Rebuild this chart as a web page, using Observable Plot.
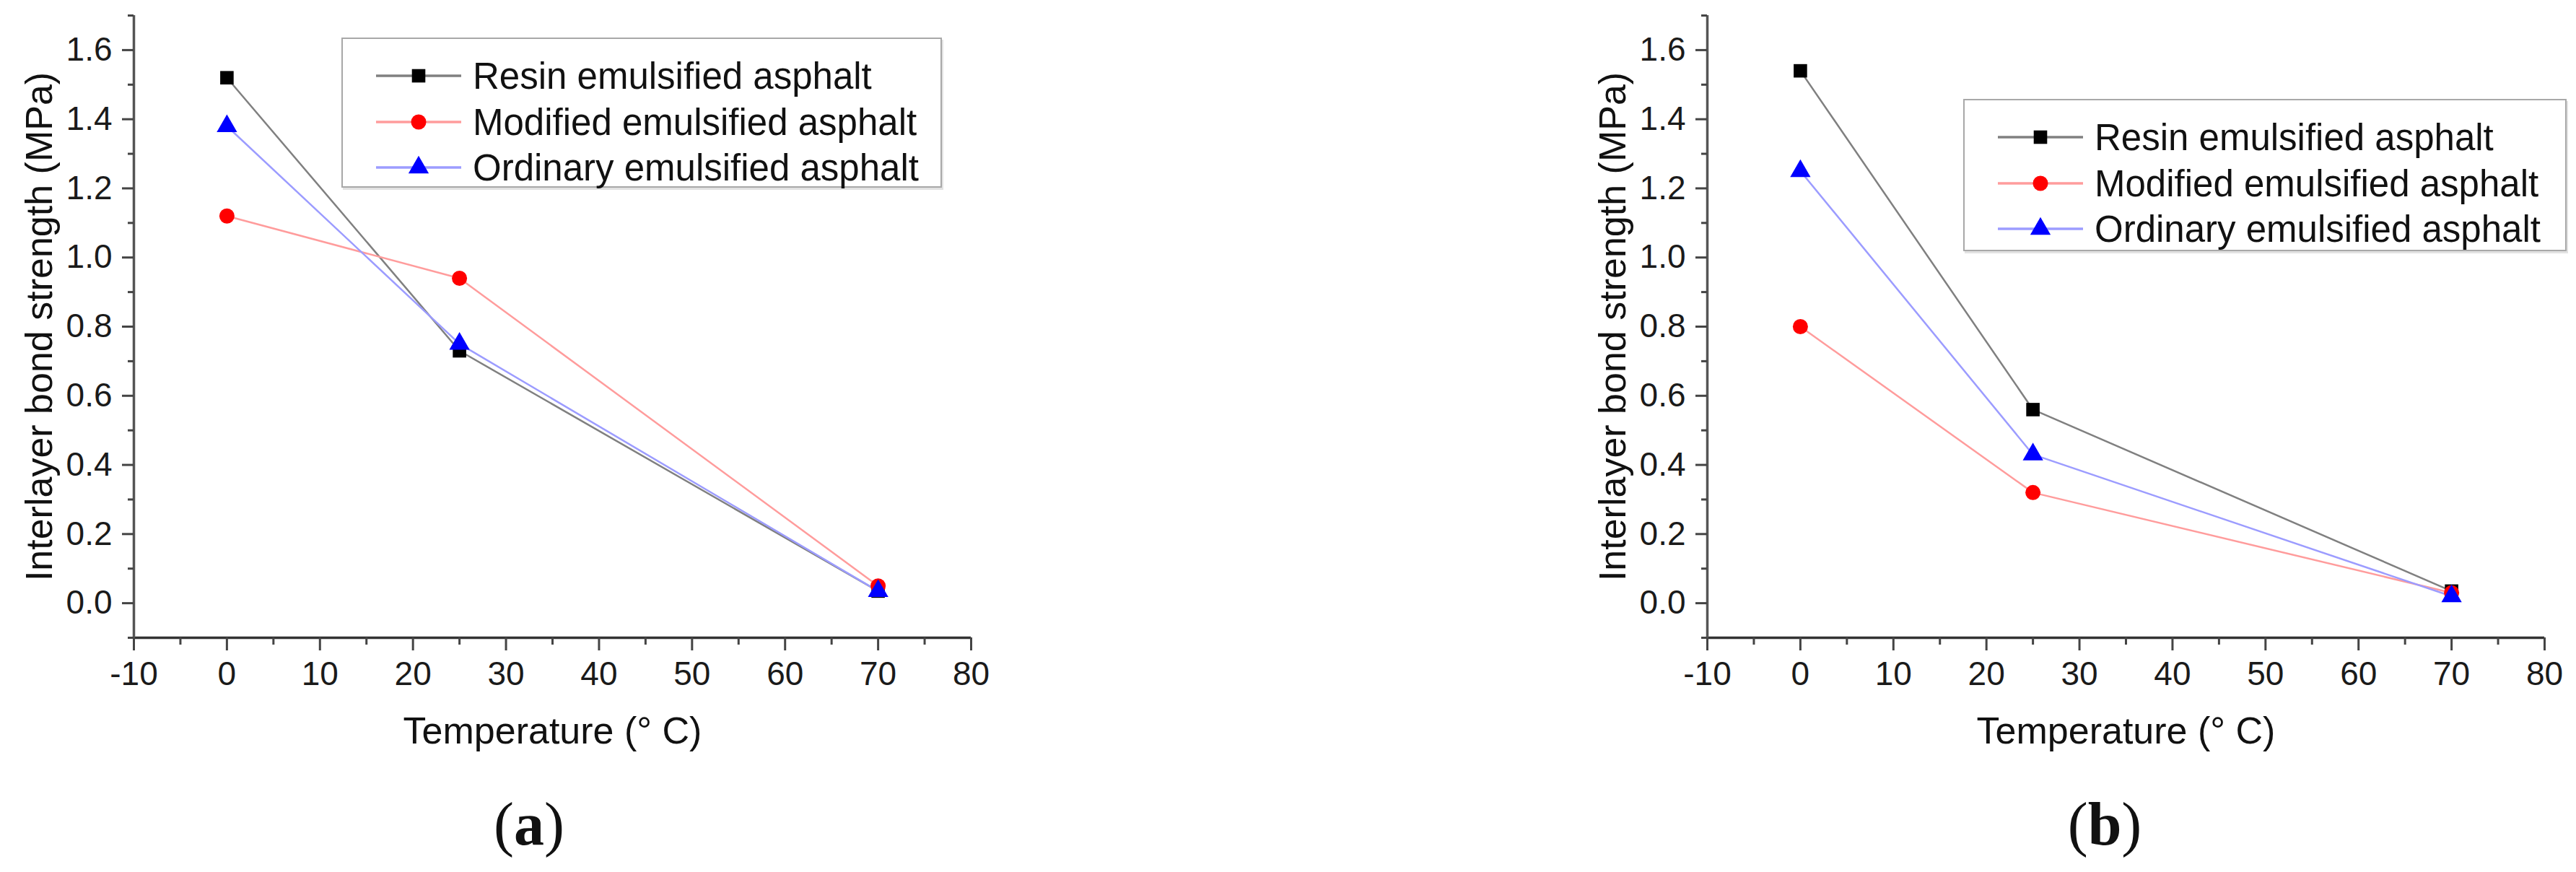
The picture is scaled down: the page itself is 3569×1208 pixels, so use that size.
<!DOCTYPE html>
<html>
<head>
<meta charset="utf-8">
<script src="https://cdn.jsdelivr.net/npm/d3@7"></script>
<script src="https://cdn.jsdelivr.net/npm/@observablehq/plot@0.6"></script>
<style>
  html, body { margin: 0; padding: 0; background: #fff; }
  #page { position: relative; width: 3569px; height: 1208px; background: #fff; overflow: hidden;
          font-family: "Liberation Sans", Arial, sans-serif; }
  .panel { position: absolute; top: 0; }
  .legend { position: absolute; box-sizing: border-box; border: 2.5px solid #a8a8a8; background: #fff;
            box-shadow: 2px 3px 0 #e2e2e2; }
  .legend .row { position: absolute; left: 0; height: 64px; display: flex; align-items: center; }
  .legend .row span { font-size: 51px; color: #111; white-space: nowrap; margin-left: 14px; }
  .caption { position: absolute; width: 400px; text-align: center; font-family: "Liberation Serif", "Times New Roman", serif;
             font-size: 84px; line-height: 84px; color: #111; }
  .caption b { font-weight: bold; }
</style>
</head>
<body>
<div id="page"></div>
<script>
// ---- data ----
const temperatures = [0, 25, 70];
const seriesNames = ["Resin emulsified asphalt", "Modified emulsified asphalt", "Ordinary emulsified asphalt"];
// panel (a)
const resinA = [1.52, 0.73, 0.035];
const modifiedA = [1.12, 0.94, 0.05];
const ordinaryA = [1.38, 0.75, 0.035];
// panel (b)
const resinB = [1.54, 0.56, 0.035];
const modifiedB = [0.80, 0.32, 0.03];
const ordinaryB = [1.25, 0.43, 0.02];
// ticks
const xMajorTicks = [-10, 0, 10, 20, 30, 40, 50, 60, 70, 80];
const xMinorTicks = [-5, 5, 15, 25, 35, 45, 55, 65, 75];
const yMajorTicks = [0.0, 0.2, 0.4, 0.6, 0.8, 1.0, 1.2, 1.4, 1.6];
const yMinorTicks = [-0.1, 0.1, 0.3, 0.5, 0.7, 0.9, 1.1, 1.3, 1.5, 1.7];
const xLabel = "Temperature (° C)";
const yLabel = "Interlayer bond strength (MPa)";
const captions = ["a", "b"];
// styles
const lineColors = ["#808080", "#ff9c9c", "#9c9cff"];
const markerColors = ["#000000", "#ff0000", "#0000ff"];
const markerSymbols = ["square", "circle", "triangle"];

const lineColorOf = Object.fromEntries(seriesNames.map((s, i) => [s, lineColors[i]]));
const markerColorOf = Object.fromEntries(seriesNames.map((s, i) => [s, markerColors[i]]));
const symbolOf = Object.fromEntries(seriesNames.map((s, i) => [s, markerSymbols[i]]));

function toRows(seriesValues) {
  return seriesNames.flatMap((s, i) => temperatures.map((t, j) => ({series: s, t, v: seriesValues[i][j]})));
}

const page = document.getElementById("page");
const R = 10.5;

function makePanel(left, values, legendBox, captionIdx, captionCenter) {
  const data = toRows(values);
  const chart = Plot.plot({
    width: 1400, height: 1060,
    marginLeft: 185, marginRight: 55, marginTop: 21, marginBottom: 177,
    x: {domain: [-10, 80]},
    y: {domain: [-0.1, 1.7]},
    color: {type: "identity"},
    style: "max-width:none;overflow:visible;background:transparent;color:#1a1a1a;font-family:'Liberation Sans',Arial,sans-serif;",
    marks: [
      Plot.ruleY([-0.1], {stroke: "#333", strokeWidth: 3.5}),
      Plot.ruleX([-10], {stroke: "#555", strokeWidth: 3.5}),
      Plot.axisX({ticks: xMajorTicks, tickSize: 18, tickPadding: 15, tickFormat: d => String(d), fontSize: 46, strokeWidth: 3, stroke: "#444", label: null}),
      Plot.axisX({ticks: xMinorTicks, tickSize: 10, tickFormat: () => "", strokeWidth: 3, stroke: "#444", label: null}),
      Plot.axisY({ticks: yMajorTicks, tickSize: 16, tickPadding: 14, tickFormat: d3.format(".1f"), fontSize: 46, strokeWidth: 3, stroke: "#444", label: null}),
      Plot.axisY({ticks: yMinorTicks, tickSize: 8, tickFormat: () => "", strokeWidth: 3, stroke: "#444", label: null}),
      Plot.text([xLabel], {frameAnchor: "bottom", dy: 130, fontSize: 52, fill: "#111", textAnchor: "middle", lineAnchor: "middle"}),
      Plot.text([yLabel], {frameAnchor: "left", rotate: -90, dx: -130, fontSize: 52, fill: "#111", textAnchor: "middle", lineAnchor: "middle"}),
      Plot.line(data, {x: "t", y: "v", z: "series", stroke: d => lineColorOf[d.series], strokeWidth: 2.5}),
      Plot.dot(data, {x: "t", y: "v", symbol: d => symbolOf[d.series], fill: d => markerColorOf[d.series], r: R})
    ]
  });
  const wrap = document.createElement("div");
  wrap.className = "panel";
  wrap.style.left = left + "px";
  wrap.style.width = "1400px";
  wrap.appendChild(chart);
  page.appendChild(wrap);

  // legend
  const lg = document.createElement("div");
  lg.className = "legend";
  lg.style.left = legendBox.left + "px";
  lg.style.top = legendBox.top + "px";
  lg.style.width = legendBox.width + "px";
  lg.style.height = legendBox.height + "px";
  const rowCenters = [51, 115, 178];
  const symTypes = {square: d3.symbolSquare, circle: d3.symbolCircle, triangle: d3.symbolTriangle};
  seriesNames.forEach((s, i) => {
    const row = document.createElement("div");
    row.className = "row";
    row.style.top = (rowCenters[i] - 32) + "px";
    const sw = d3.create("svg").attr("width", 166).attr("height", 64).style("overflow", "visible");
    sw.append("line").attr("x1", 46).attr("x2", 164).attr("y1", 32).attr("y2", 32)
      .attr("stroke", lineColors[i]).attr("stroke-width", 3.5);
    sw.append("path").attr("transform", "translate(105,32)")
      .attr("d", d3.symbol(symTypes[markerSymbols[i]], Math.PI * R * R)())
      .attr("fill", markerColors[i]);
    row.appendChild(sw.node());
    const tx = document.createElement("span");
    tx.textContent = s;
    row.appendChild(tx);
    lg.appendChild(row);
  });
  page.appendChild(lg);

  // caption
  const cap = document.createElement("div");
  cap.className = "caption";
  cap.style.left = (captionCenter - 200) + "px";
  cap.style.top = "1100px";
  cap.innerHTML = "(<b>" + captions[captionIdx] + "</b>)";
  page.appendChild(cap);
}

makePanel(0, [resinA, modifiedA, ordinaryA], {left: 473, top: 52, width: 832, height: 208}, 0, 733);
makePanel(2180, [resinB, modifiedB, ordinaryB], {left: 2720, top: 137, width: 836, height: 211}, 1, 2916);
</script>
</body>
</html>
